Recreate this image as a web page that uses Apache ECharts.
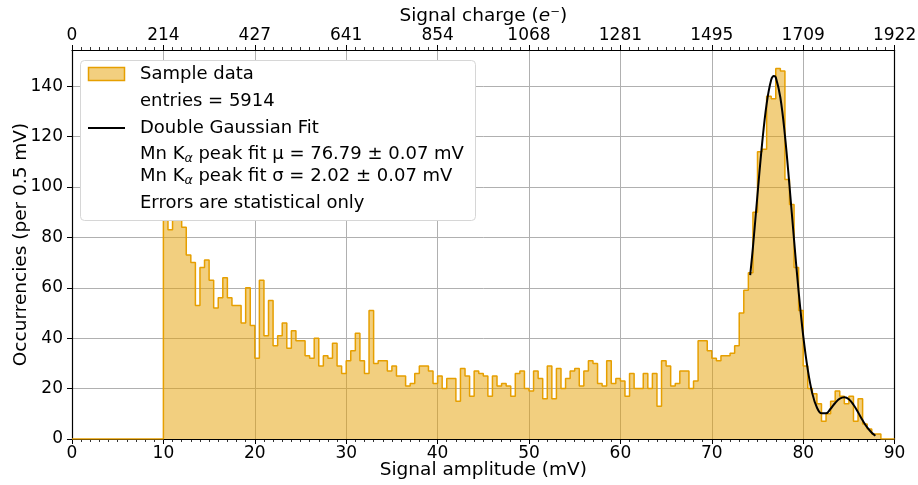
<!DOCTYPE html>
<html><head><meta charset="utf-8">
<script src="https://cdn.jsdelivr.net/npm/echarts@6/dist/echarts.min.js"></script>
<style>html,body{margin:0;padding:0;background:#fff}#c{width:918px;height:485px}</style>
</head><body><div id="c"></div>
<script>
// ---- data ----
const binWidth = 0.5;          // mV per bin
const firstBin = 10.0;         // left edge of first non-empty bin (mV)
const counts = [
  95, 83, 92, 90, 84, 73, 70, 53, 68, 71, 63, 52, 56, 64, 56, 53, 53, 46, 60, 45,
  32, 63, 41, 55, 37, 41, 46, 36, 43, 39, 39, 33, 32, 40, 29, 33, 32, 38, 29, 26,
  31, 35, 42, 31, 26, 51, 30, 31, 31, 27, 29, 25, 25, 21, 22, 26, 29, 29, 27, 22,
  25, 20, 24, 24, 15, 28, 25, 17, 27, 26, 25, 17, 25, 21, 22, 21, 17, 26, 27, 20,
  19, 27, 24, 16, 29, 16, 28, 20, 24, 27, 28, 21, 27, 31, 30, 22, 21, 31, 22, 24,
  23, 17, 26, 20, 20, 26, 20, 26, 13, 31, 29, 21, 22, 27, 27, 20, 23, 39, 39, 35,
  32, 31, 33, 33, 34, 37, 50, 59, 66, 90, 114, 115, 136, 135, 147, 146, 103, 93, 68, 51,
  29, 20, 18, 14, 7, 10, 15, 19, 17, 14, 17, 7, 16, 6, 4, 2, 2, 0
];
const xMin = 0, xMax = 90, xStep = 10;
const topTickLabels = ['0', '214', '427', '641', '854', '1068', '1281', '1495', '1709', '1922'];
const yTicks = [0, 20, 40, 60, 80, 100, 120, 140];
const yMax = 154.35;
const fitX = [74.2, 74.5, 75.0, 75.5, 76.0, 76.5, 76.8, 77.0, 77.5, 78.0, 78.5, 79.0, 79.5, 80.0, 80.5, 81.0, 81.5, 82.0, 82.5, 83.0, 83.5, 84.0, 84.5, 85.0, 85.5, 86.0, 86.5, 87.0, 87.5, 87.9];
const fitY = [65, 76, 97, 117, 133, 142.5, 144, 143.5, 135.5, 120.5, 100.5, 79, 58.5, 41, 27.5, 18, 12.5, 10.2, 10.2, 12, 14.3, 16, 16.6, 15.8, 13.6, 10.6, 7.4, 4.6, 2.5, 1.3];
const legendLines = [
  'Sample data',
  'entries = 5914',
  'Double Gaussian Fit',
  'Mn K{sub|α} peak fit μ = 76.79 ± 0.07 mV',
  'Mn K{sub|α} peak fit σ = 2.02 ± 0.07 mV',
  'Errors are statistical only'
];

// ---- build series data ----
const nBins = Math.round((xMax - xMin) / binWidth);
const histData = [];
for (let i = 0; i < nBins; i++) {
  const x = xMin + i * binWidth;
  const k = Math.round((x - firstBin) / binWidth);
  histData.push([x, (k >= 0 && k < counts.length) ? counts[k] : 0]);
}
histData.push([xMax, 0]);
const fitData = fitX.map((x, i) => [x, fitY[i]]);

const FONT = 'DejaVu Sans';
const FS = 17;      // tick labels
const FSN = 18.5;   // axis names
const FSL = 18;     // legend
const orange = '#E69F00';
const fill = 'rgba(230,159,0,0.5)';

const chart = echarts.init(document.getElementById('c'), null, {renderer: 'canvas'});
const legY = [74, 101, 128, 154, 176, 203];
const legendGraphics = [
  {type: 'rect', shape: {x: 80.5, y: 60.5, width: 395, height: 160, r: 4},
   style: {fill: '#fff', stroke: '#d6d6d6', lineWidth: 1}, z: 100},
  {type: 'rect', shape: {x: 88.5, y: 67.5, width: 36, height: 13},
   style: {fill: fill, stroke: orange, lineWidth: 1.5}, z: 101},
  {type: 'line', shape: {x1: 88, y1: legY[2], x2: 125, y2: legY[2]},
   style: {stroke: '#000', lineWidth: 2}, z: 101}
];
legendLines.forEach((t, i) => {
  legendGraphics.push({
    type: 'text', x: 140, y: legY[i], z: 101,
    style: {
      text: t, fill: '#000',
      fontFamily: FONT, fontSize: FSL, verticalAlign: 'middle', align: 'left',
      rich: {sub: {fontFamily: FONT, fontSize: 12.5, fontStyle: 'italic', fill: '#000', padding: [9, 0, 0, 0]}}
    }
  });
});

const axisCommon = {
  type: 'value', min: xMin, max: xMax, interval: xStep,
  nameMoveOverlap: false,
  axisLine: {show: true, onZero: false, lineStyle: {color: '#000', width: 1.2}},
  axisTick: {show: true, inside: false, length: 5, lineStyle: {color: '#000', width: 1}},
  minorTick: {show: true, splitNumber: 10, length: 3, lineStyle: {color: '#000', width: 0.8}},
  axisLabel: {color: '#000', fontFamily: FONT, fontSize: FS, margin: 6},
  nameTextStyle: {color: '#000', fontFamily: FONT, fontSize: FSN}
};

chart.setOption({
  animation: false,
  backgroundColor: '#fff',
  grid: {left: 72, right: 23.4, top: 50, bottom: 46, containLabel: false, outerBoundsMode: 'none'},
  xAxis: [
    Object.assign({}, axisCommon, {
      position: 'bottom', name: 'Signal amplitude (mV)', nameLocation: 'middle', nameGap: 22,
      splitLine: {show: true, lineStyle: {color: '#b0b0b0', width: 1}}
    }),
    Object.assign({}, axisCommon, {
      position: 'top',
      name: 'Signal charge ({it|e}⁻)', nameLocation: 'middle', nameGap: 24,
      nameTextStyle: {color: '#000', fontFamily: FONT, fontSize: FSN,
        rich: {it: {fontFamily: FONT, fontSize: FSN, fontStyle: 'italic', color: '#000'}}},
      axisLabel: {color: '#000', fontFamily: FONT, fontSize: FS, margin: 6,
        formatter: v => topTickLabels[Math.round((v - xMin) / xStep)] ?? ''},
      splitLine: {show: false}
    })
  ],
  yAxis: [
    {
      type: 'value', min: 0, max: yMax, position: 'left',
      nameMoveOverlap: false,
      name: 'Occurrencies (per 0.5 mV)', nameLocation: 'middle', nameGap: 41,
      nameTextStyle: {color: '#000', fontFamily: FONT, fontSize: FSN},
      axisLine: {show: true, onZero: false, lineStyle: {color: '#000', width: 1.2}},
      axisTick: {show: true, length: 5, customValues: yTicks, lineStyle: {color: '#000', width: 1}},
      axisLabel: {color: '#000', fontFamily: FONT, fontSize: FS, margin: 9, customValues: yTicks},
      splitLine: {show: true, lineStyle: {color: '#b0b0b0', width: 1}},
      interval: 20
    },
    {
      type: 'value', min: 0, max: yMax, position: 'right',
      axisLine: {show: true, onZero: false, lineStyle: {color: '#000', width: 1.2}},
      axisTick: {show: false}, axisLabel: {show: false}, splitLine: {show: false}
    }
  ],
  graphic: legendGraphics,
  series: [
    {
      type: 'line', name: 'Sample data', xAxisIndex: 0, yAxisIndex: 0,
      data: histData, step: 'end', symbol: 'none', silent: true,
      lineStyle: {color: orange, width: 1.5},
      areaStyle: {color: fill, opacity: 1, origin: 'start'}, z: 2
    },
    {
      type: 'line', name: 'Double Gaussian Fit', xAxisIndex: 0, yAxisIndex: 0,
      data: fitData, smooth: 0.4, symbol: 'none', silent: true,
      lineStyle: {color: '#000', width: 2}, z: 3
    }
  ]
});
</script>
</body></html>
